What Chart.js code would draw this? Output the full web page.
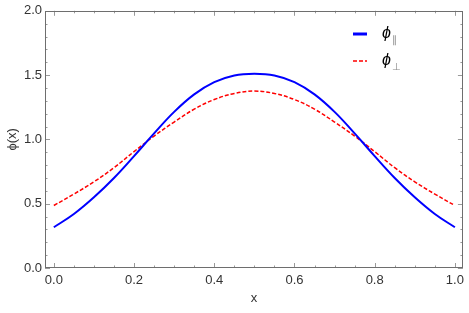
<!DOCTYPE html>
<html>
<head>
<meta charset="utf-8">
<script src="https://cdn.jsdelivr.net/npm/chart.js@4"></script>
<style>
  body{margin:0;background:#fff;}
  canvas{display:block;}
</style>
</head>
<body>
<canvas id="chart" width="469" height="313"></canvas>
<script>
// values
const xs = [0,0.05,0.1,0.15,0.2,0.25,0.3,0.35,0.4,0.45,0.5,0.55,0.6,0.65,0.7,0.75,0.8,0.85,0.9,0.95,1.0];
const phiPar = [0.317,0.42,0.55,0.70,0.87,1.047,1.214,1.35,1.445,1.497,1.51,1.497,1.445,1.35,1.214,1.047,0.87,0.70,0.55,0.42,0.317];
const phiPerp = [0.486,0.575,0.67,0.78,0.905,1.026,1.135,1.235,1.31,1.357,1.376,1.357,1.31,1.235,1.135,1.026,0.905,0.78,0.67,0.575,0.486];
const xTicks = [0,0.2,0.4,0.6,0.8,1.0];
const yTicks = [0,0.5,1.0,1.5,2.0];
const xMinor = [0.05,0.1,0.15,0.25,0.3,0.35,0.45,0.5,0.55,0.65,0.7,0.75,0.85,0.9,0.95];
const yMinor = [0.1,0.2,0.3,0.4,0.6,0.7,0.8,0.9,1.1,1.2,1.3,1.4,1.6,1.7,1.8,1.9];
const legendSubs = ['\u2225','\u22A5'];

const FONT = 'Liberation Sans, Arial, sans-serif';
const FRAME = '#6e6e6e';
const TICK = '#9a9a9a';

const toPts = ys => xs.map((x,i)=>({x, y: ys[i]}));

// frame, inward ticks and legend (Mathematica style)
const framePlugin = {
  id: 'frame',
  afterDatasetsDraw(chart){
    const {ctx, chartArea:a, scales:{x, y}} = chart;
    ctx.save();
    ctx.strokeStyle = TICK;
    ctx.lineWidth = 1;
    const tickX = (v, len) => {
      const px = Math.round(x.getPixelForValue(v)) + 0.5;
      ctx.beginPath();
      ctx.moveTo(px, a.bottom); ctx.lineTo(px, a.bottom - len);
      ctx.moveTo(px, a.top); ctx.lineTo(px, a.top + len);
      ctx.stroke();
    };
    const tickY = (v, len) => {
      const py = Math.round(y.getPixelForValue(v)) + 0.5;
      ctx.beginPath();
      ctx.moveTo(a.left, py); ctx.lineTo(a.left + len, py);
      ctx.moveTo(a.right, py); ctx.lineTo(a.right - len, py);
      ctx.stroke();
    };
    xTicks.forEach(v=>tickX(v, 5));
    xMinor.forEach(v=>tickX(v, 2.5));
    yTicks.forEach(v=>tickY(v, 5));
    yMinor.forEach(v=>tickY(v, 2.5));
    ctx.strokeStyle = FRAME;
    ctx.lineWidth = 1;
    ctx.strokeRect(Math.round(a.left)+0.5, Math.round(a.top)+0.5, Math.round(a.right-a.left)-1, Math.round(a.bottom-a.top)-1);

    // legend
    chart.data.datasets.forEach((ds, i)=>{
      const ly = 34 + i*27;
      ctx.strokeStyle = ds.borderColor;
      ctx.lineWidth = i===0 ? 3 : 1.5;
      ctx.setLineDash(ds.borderDash || []);
      ctx.beginPath(); ctx.moveTo(353, ly); ctx.lineTo(367, ly); ctx.stroke();
      ctx.setLineDash([]);
      ctx.fillStyle = '#000';
      ctx.font = 'italic 16px ' + FONT;
      ctx.textBaseline = 'middle';
      ctx.fillText('\u03D5', 382, ly);
      ctx.fillStyle = '#888';
      ctx.font = '10px ' + FONT;
      ctx.fillText(legendSubs[i], 392, ly + 6);
    });
    ctx.restore();
  }
};

new Chart(document.getElementById('chart').getContext('2d'), {
  type: 'line',
  data: {
    datasets: [
      { label: '\u03D5\u2225', data: toPts(phiPar), borderColor: '#0000ff', borderWidth: 2, pointRadius: 0, tension: 0.4 },
      { label: '\u03D5\u22A5', data: toPts(phiPerp), borderColor: '#ff0000', borderWidth: 1.5, borderDash: [4,2], pointRadius: 0, tension: 0.4 }
    ]
  },
  options: {
    responsive: false,
    animation: false,
    layout: { padding: { top: 9, right: 4, left: 0, bottom: 0 } },
    plugins: { legend: { display: false }, tooltip: { enabled: false } },
    scales: {
      x: {
        type: 'linear', min: -0.022, max: 1.02,
        grid: { display: false, drawTicks: false },
        border: { display: false },
        afterBuildTicks: s => { s.ticks = xTicks.map(v=>({value: v})); },
        afterFit: s => { s.height = 45; },
        ticks: { color: '#333', font: { family: FONT, size: 13 }, padding: 5, maxRotation: 0,
                 callback: v => Number(v).toFixed(1) },
        title: { display: true, text: 'x', color: '#333', font: { family: FONT, size: 13 }, padding: { top: 0, bottom: 7 } }
      },
      y: {
        min: 0, max: 2,
        grid: { display: false, drawTicks: false },
        border: { display: false },
        afterBuildTicks: s => { s.ticks = yTicks.map(v=>({value: v})); },
        afterFit: s => { s.width = 45; },
        ticks: { color: '#333', font: { family: FONT, size: 13 }, padding: 3,
                 callback: v => Number(v).toFixed(1) },
        title: { display: true, text: '\u03D5(x)', color: '#333', font: { family: FONT, size: 13 }, padding: { top: 5, bottom: 0 } }
      }
    }
  },
  plugins: [framePlugin]
});
</script>
</body>
</html>
